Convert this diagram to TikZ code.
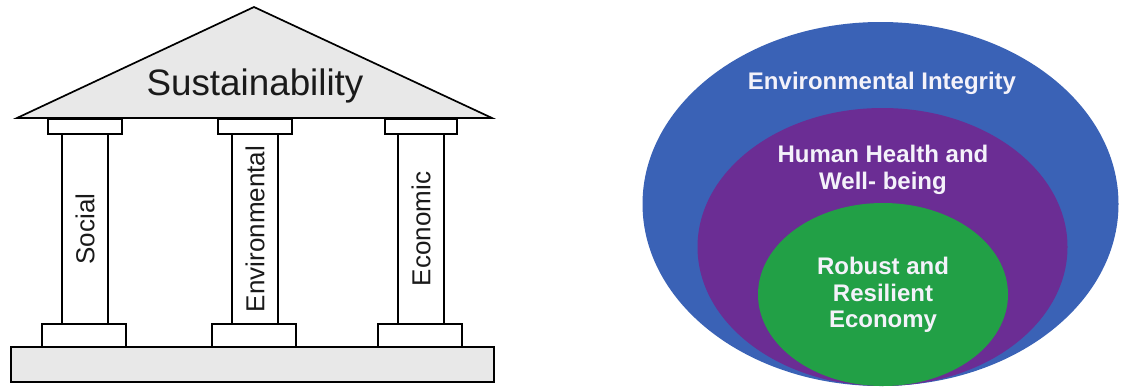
\documentclass[tikz,border=0pt]{standalone}
\usepackage{fontspec}
\setmainfont{Liberation Sans}
\definecolor{roofgray}{HTML}{E8E8E8}
\definecolor{envblue}{HTML}{3A62B6}
\definecolor{healthpurple}{HTML}{6B2D94}
\definecolor{econgreen}{HTML}{22A046}
\definecolor{labelwhite}{HTML}{F4F2FA}
\definecolor{inkgray}{HTML}{1A1A1A}
\begin{document}
\begin{tikzpicture}[x=1pt,y=-1pt,
  outline/.style={draw=black,line width=1.7pt,line join=miter},
  stonepart/.style={outline,fill=white},
  pillartext/.style={rotate=90,text=inkgray,font=\fontsize{26}{30}\selectfont,inner sep=0pt},
  ringtext/.style={text=labelwhite,font=\fontsize{24}{27.5}\selectfont\bfseries,align=center,inner sep=0pt}]
  % canvas
  \useasboundingbox (0,0) rectangle (1121,388);
  \fill[white] (0,0) rectangle (1121,388);

  % ---- temple: base platform and plinths ----
  \draw[outline,fill=roofgray] (11,347) rectangle (494,382);
  \foreach \cx in {84,254,420}{
    \draw[stonepart] (\cx-42,324) rectangle (\cx+42,347);
  }
  % pillar shafts
  \draw[stonepart] (62,134) rectangle (108,324);
  \draw[stonepart] (232,134) rectangle (278,324);
  \draw[stonepart] (398,134) rectangle (444,324);
  % capitals
  \draw[stonepart] (48,119) rectangle (122,134);
  \draw[stonepart] (218,119) rectangle (292,134);
  \draw[stonepart] (385,119) rectangle (457,134);
  % roof
  \draw[outline,fill=roofgray] (17,118) -- (254,7) -- (492,118) -- cycle;
  \node[text=inkgray,font=\fontsize{36.8}{40}\selectfont,inner sep=0pt] (roof) at (255,86) {Sustainability};
  \node[pillartext] (social) at (85,229) {Social};
  \node[pillartext] (environmental) at (255,229) {Environmental};
  \node[pillartext] (economic) at (421,229) {Economic};

  % ---- nested ellipses ----
  \fill[envblue] (880.5,204) ellipse [x radius=238, y radius=182];
  \fill[healthpurple] (882.5,247) ellipse [x radius=185, y radius=139];
  \fill[econgreen] (883,294.5) ellipse [x radius=125, y radius=91.5];
  \node[ringtext] (integrity) at (882,83) {Environmental Integrity};
  \node[ringtext] (health) at (883,170) {Human Health and\\Well- being};
  \node[ringtext,font=\fontsize{24}{26.5}\selectfont\bfseries] (economy) at (883,295) {Robust and\\Resilient\\Economy};
\end{tikzpicture}
\end{document}
